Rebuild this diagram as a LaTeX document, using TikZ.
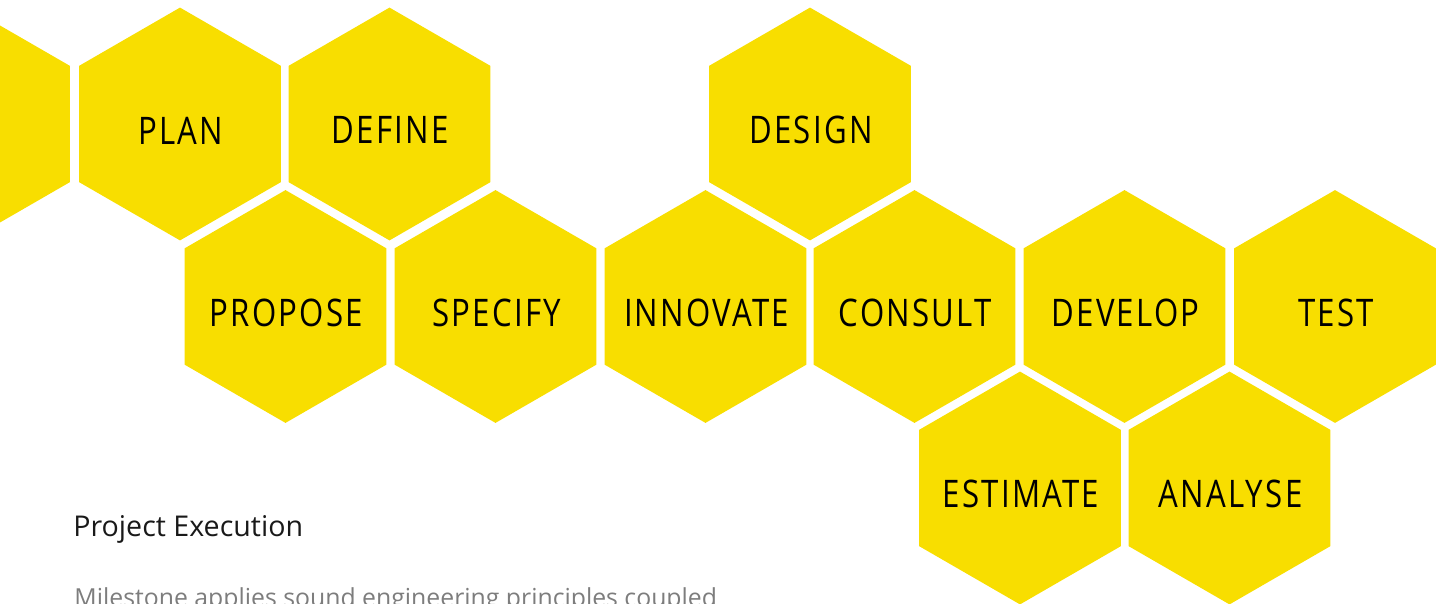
\documentclass[tikz,border=0pt]{standalone}
\usepackage{fontspec}
\setmainfont{Open Sans}
\newfontfamily\hexfont[FakeStretch=0.82,LetterSpace=6]{Open Sans}
\usetikzlibrary{shapes.geometric}
\definecolor{hexyellow}{RGB}{248,222,0}
\definecolor{bodygray}{RGB}{125,125,125}
\definecolor{titleblack}{RGB}{25,25,25}
\begin{document}
\begin{tikzpicture}[x=0.5pt,y=-0.5pt,
  hexcell/.style={regular polygon, regular polygon sides=6, regular polygon rotate=30,
    minimum size=116.4pt, inner sep=0pt, outer sep=0pt, fill=hexyellow, draw=none},
  hexlabel/.style={font=\hexfont\fontsize{19}{19}\selectfont, text=black, inner sep=0pt},
  titletext/.style={font=\fontsize{14.3}{16}\selectfont, text=titleblack, inner sep=0pt, anchor=base west},
  bodytext/.style={font=\fontsize{12.4}{14}\selectfont, text=bodygray, inner sep=0pt, anchor=base west}]
\useasboundingbox (0,0) rectangle (1442,604);
\clip (0,0) rectangle (1442,604);
% row 1
\node[hexcell] (h0) at (-31,124) {};
\node[hexcell] (hplan) at (180,124) {};
\node[hexcell] (hdefine) at (389.5,124) {};
\node[hexcell] (hdesign) at (810,124) {};
% row 2
\node[hexcell] (hpropose) at (285.5,306.5) {};
\node[hexcell] (hspecify) at (495.5,306.5) {};
\node[hexcell] (hinnovate) at (705.5,306.5) {};
\node[hexcell] (hconsult) at (914.5,306.5) {};
\node[hexcell] (hdevelop) at (1124.5,306.5) {};
\node[hexcell] (htest) at (1335,306.5) {};
% row 3
\node[hexcell] (hestimate) at (1020,488) {};
\node[hexcell] (hanalyse) at (1229.5,488) {};
% labels
\foreach \n/\t in {plan/PLAN,define/DEFINE,design/DESIGN,propose/PROPOSE,specify/SPECIFY,
  innovate/INNOVATE,consult/CONSULT,develop/DEVELOP,test/TEST,estimate/ESTIMATE,analyse/ANALYSE}
  \node[hexlabel] (t\n) at ([xshift=0.5pt,yshift=-3.2pt]h\n.center) {\t};
\node[titletext] (title) at (73,537) {Project Execution};
\node[bodytext] (body) at (74,606) {Milestone applies sound engineering principles coupled};
\end{tikzpicture}
\end{document}
